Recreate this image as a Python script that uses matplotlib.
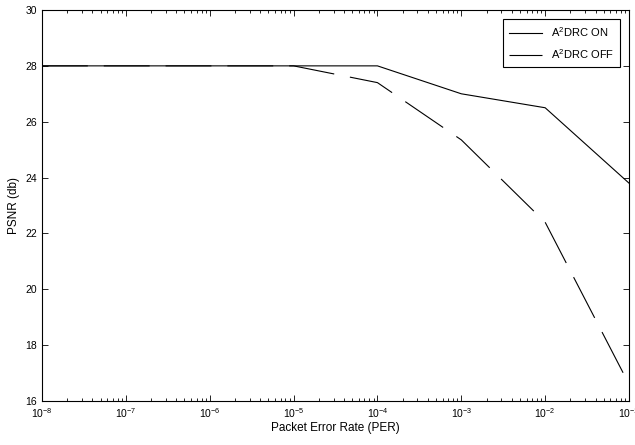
import matplotlib.pyplot as plt
import numpy as np

# Data
per = [1e-8, 1e-7, 1e-6, 1e-5, 1e-4, 1e-3, 1e-2, 1e-1]
psnr_on = [28, 28, 28, 28, 28, 27.0, 26.5, 23.8]
psnr_off = [28, 28, 28, 28, 27.4, 25.35, 22.4, 16.6]
y_ticks = [16, 18, 20, 22, 24, 26, 28, 30]

plt.rcParams['font.family'] = ['Liberation Sans', 'DejaVu Sans']
plt.rcParams['mathtext.fontset'] = 'custom'
plt.rcParams['mathtext.rm'] = 'Liberation Sans'
plt.rcParams['axes.unicode_minus'] = False

fig = plt.figure(figsize=(6.35, 4.45), dpi=100)
ax = fig.add_axes([0.0661, 0.0989, 0.9245, 0.8786])

lw = 0.8
ax.plot(per, psnr_on, color='black', linewidth=lw, label='A$^2$DRC ON')
ax.plot(per, psnr_off, color='black', linewidth=lw,
        linestyle=(0, (33 / lw, 11.5 / lw)), label='A$^2$DRC OFF')

ax.set_xscale('log')
ax.set_xlim(1e-8, 1e-1)
ax.set_ylim(16, 30)
ax.set_yticks(y_ticks)

ax.tick_params(which='both', direction='in', top=True, right=True, labelsize=7.5, width=0.6)
ax.tick_params(which='major', length=4)
ax.tick_params(which='minor', length=2)
for s in ax.spines.values():
    s.set_linewidth(0.8)

ax.set_xlabel('Packet Error Rate (PER)', fontsize=8.5, labelpad=2)
ax.set_ylabel('PSNR (db)', fontsize=8.5, labelpad=4)

leg = ax.legend(loc='upper right', fontsize=8, fancybox=False, edgecolor='black',
                framealpha=1, handlelength=3.0, borderaxespad=0.8,
                labelspacing=0.75, borderpad=0.55)
leg.get_frame().set_linewidth(0.8)

fig.savefig('out.png', dpi=100)
